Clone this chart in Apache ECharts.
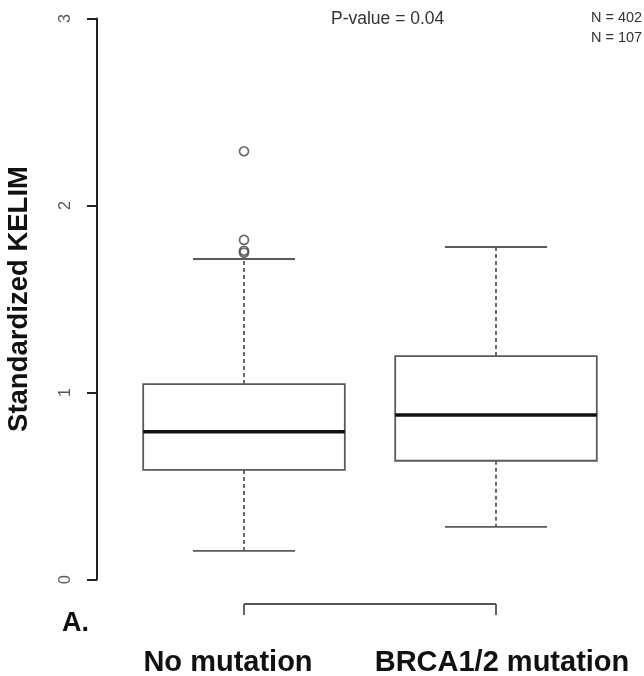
<!DOCTYPE html>
<html>
<head>
<meta charset="utf-8">
<script src="https://cdn.jsdelivr.net/npm/echarts@6/dist/echarts.min.js"></script>
<style>
html,body{margin:0;padding:0;background:#fff;}
#main{width:644px;height:676px;}
</style>
</head>
<body>
<div id="main"></div>
<script>
// ---- data ----
const categories = ['No mutation', 'BRCA1/2 mutation'];
const lowerWhisker = [0.153, 0.281];
const q1 = [0.586, 0.635];
const median = [0.79, 0.88];
const q3 = [1.045, 1.195];
const upperWhisker = [1.714, 1.778];
const outlierGroup = [0, 0, 0, 0];
const outlierValue = [2.29, 1.816, 1.758, 1.748];
const yTicks = [0, 1, 2, 3];
const pValueText = 'P-value = 0.04';
const nTexts = ['N = 402', 'N = 107'];
const panelLabel = 'A.';
const yTitle = 'Standardized KELIM';

const FONT = '"Liberation Sans", Arial, sans-serif';
const boxData = categories.map((c, i) => [i, lowerWhisker[i], q1[i], median[i], q3[i], upperWhisker[i]]);
const outlierData = outlierGroup.map((g, i) => [g, outlierValue[i]]);

const chart = echarts.init(document.getElementById('main'), null, {renderer: 'canvas'});

const GRAY = '#5a5a5a';

function renderBox(params, api) {
  const ci = api.value(0);
  const band = api.size([1, 0])[0];
  const cx = api.coord([ci, 0])[0];
  const yLW = api.coord([ci, api.value(1)])[1];
  const yQ1 = api.coord([ci, api.value(2)])[1];
  const yMed = api.coord([ci, api.value(3)])[1];
  const yQ3 = api.coord([ci, api.value(4)])[1];
  const yUW = api.coord([ci, api.value(5)])[1];
  const bw = band * 0.8;
  const cw = band * 0.405;
  const dash = {stroke: GRAY, lineWidth: 1.8, lineDash: [4, 3]};
  const solid = {stroke: GRAY, lineWidth: 1.8};
  return {
    type: 'group',
    children: [
      {type: 'line', shape: {x1: cx, y1: yQ1, x2: cx, y2: yLW}, style: dash},
      {type: 'line', shape: {x1: cx, y1: yQ3, x2: cx, y2: yUW}, style: dash},
      {type: 'line', shape: {x1: cx - cw / 2, y1: yLW, x2: cx + cw / 2, y2: yLW}, style: solid},
      {type: 'line', shape: {x1: cx - cw / 2, y1: yUW, x2: cx + cw / 2, y2: yUW}, style: solid},
      {type: 'rect', shape: {x: cx - bw / 2, y: yQ3, width: bw, height: yQ1 - yQ3}, style: {fill: '#fff', stroke: GRAY, lineWidth: 1.8}},
      {type: 'line', shape: {x1: cx - bw / 2, y1: yMed, x2: cx + bw / 2, y2: yMed}, style: {stroke: '#111', lineWidth: 3.4}}
    ]
  };
}

function renderBracket(params, api) {
  const x0 = api.coord([0, 0])[0];
  const x1 = api.coord([categories.length - 1, 0])[0];
  const yBase = api.coord([0, 0])[1];
  const y = yBase + 24.5;
  const st = {stroke: '#555', lineWidth: 1.8};
  return {
    type: 'group',
    children: [
      {type: 'line', shape: {x1: x0, y1: y, x2: x1, y2: y}, style: st},
      {type: 'line', shape: {x1: x0, y1: y, x2: x0, y2: y + 11}, style: st},
      {type: 'line', shape: {x1: x1, y1: y, x2: x1, y2: y + 11}, style: st}
    ]
  };
}

const option = {
  backgroundColor: '#fff',
  animation: false,
  textStyle: {fontFamily: FONT},
  title: [
    {text: pValueText, left: 331, top: 10, padding: 0, textStyle: {fontFamily: FONT, fontSize: 17.5, fontWeight: 'normal', color: '#333'}},
    {text: nTexts[0], left: 591, top: 10, padding: 0, textStyle: {fontFamily: FONT, fontSize: 14.5, fontWeight: 'normal', color: '#333'}},
    {text: nTexts[1], left: 591, top: 30, padding: 0, textStyle: {fontFamily: FONT, fontSize: 14.5, fontWeight: 'normal', color: '#333'}},
    {text: panelLabel, left: 62, top: 610, padding: 0, textStyle: {fontFamily: FONT, fontSize: 27, fontWeight: 'bold', color: '#111'}}
  ],
  grid: {left: 118, right: 22, top: 18.5, bottom: 96.5, containLabel: false, outerBoundsMode: 'none'},
  xAxis: {
    type: 'category',
    data: [
      {value: categories[0], textStyle: {padding: [0, 32, 0, 0]}},
      {value: categories[1], textStyle: {padding: [0, 0, 0, 12]}}
    ],
    axisLine: {show: false},
    axisTick: {show: false},
    splitLine: {show: false},
    axisLabel: {margin: 69, fontFamily: FONT, fontSize: 29, fontWeight: 'bold', color: '#111', interval: 0}
  },
  yAxis: {
    type: 'value',
    min: yTicks[0],
    max: yTicks[yTicks.length - 1],
    interval: 1,
    offset: 21,
    name: yTitle,
    nameLocation: 'middle',
    nameGap: 64,
    nameRotate: 90,
    nameTextStyle: {fontFamily: FONT, fontSize: 27.5, fontWeight: 'bold', color: '#111'},
    axisLine: {show: true, lineStyle: {color: '#222', width: 2}},
    axisTick: {show: true, length: 10, lineStyle: {color: '#222', width: 2}},
    splitLine: {show: false},
    axisLabel: {rotate: 90, margin: 23, fontFamily: FONT, fontSize: 16, color: '#555'}
  },
  series: [
    {type: 'custom', renderItem: renderBox, data: boxData, encode: {x: 0, y: [1, 2, 3, 4, 5]}, z: 2},
    {type: 'scatter', data: outlierData, symbol: 'circle', symbolSize: 9,
      itemStyle: {color: 'rgba(255,255,255,0)', borderColor: '#444', borderWidth: 1.7}, z: 3},
    {type: 'custom', renderItem: renderBracket, data: [[0, 0]], encode: {x: 0, y: 1}, z: 2}
  ]
};
chart.setOption(option);
</script>
</body>
</html>
